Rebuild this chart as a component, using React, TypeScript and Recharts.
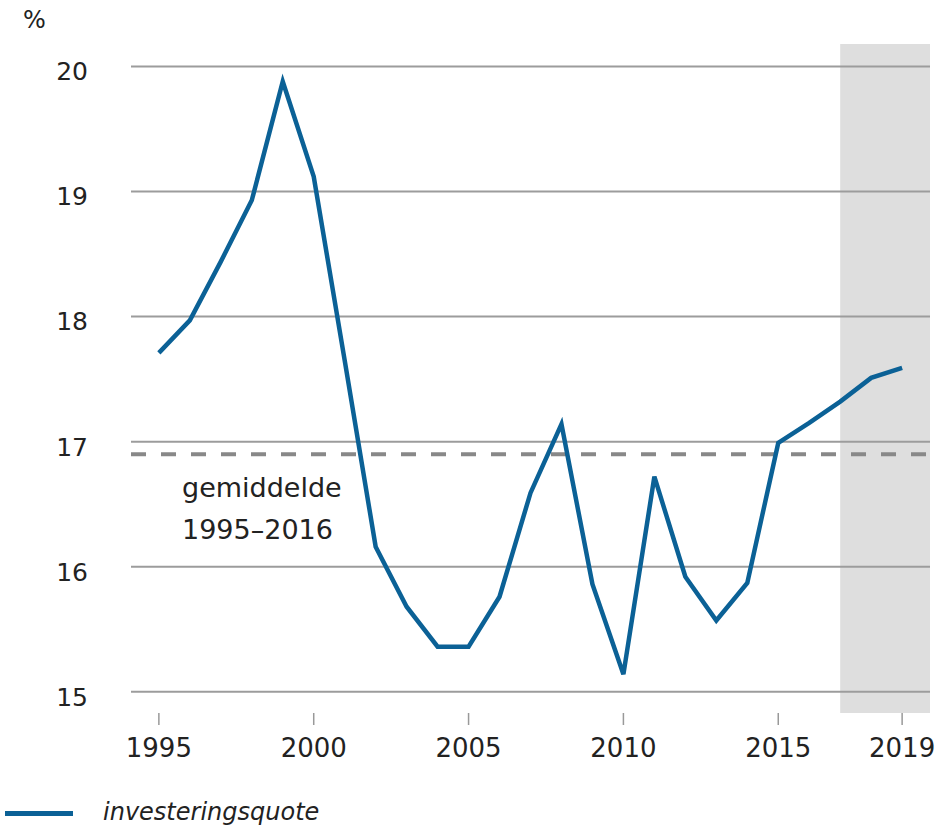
import React from 'react';
import {
    LineChart,
    Line,
    XAxis,
    YAxis,
    ReferenceLine,
    ReferenceArea
} from 'recharts';

const years = [
    1995, 1996, 1997, 1998, 1999, 2000, 2001, 2002, 2003, 2004, 2005, 2006, 2007,
    2008, 2009, 2010, 2011, 2012, 2013, 2014, 2015, 2016, 2017, 2018, 2019
];
const investeringsquote = [
    17.71, 17.97, 18.44, 18.93, 19.88, 19.12, 17.65, 16.16, 15.68, 15.36, 15.36, 15.76, 16.59,
    17.14, 15.86, 15.14, 16.72, 15.92, 15.57, 15.87, 16.99, 17.15, 17.32, 17.51, 17.59
];
const xTicks = [1995, 2000, 2005, 2010, 2015, 2019];
const yTicks = [15, 16, 17, 18, 19, 20];
const gemiddelde = 16.9;
const ramingVanaf = 2017;
const annotationLines = ['gemiddelde', '1995\u20132016'];

const BLUE = '#0b6196';
const FONT = '"DejaVu Sans", sans-serif';

const data = years.map((year, i) => ({ year, value: investeringsquote[i] }));

const AvgLabel = (props: any) => {
    const { viewBox } = props;
    const x = viewBox.x + 51;
    const y = viewBox.y;
    return (
        <g>
            {annotationLines.map((line, i) => (
                <text key={line} x={x} y={y + 43 + i * 42} fontSize={27} fontFamily={FONT} fill="#222">
                    {line}
                </text>
            ))}
        </g>
    );
};

export default function App() {
    return (
        <div style={{ position: 'absolute', left: 0, top: 0, width: 948, height: 839, background: '#fff', fontFamily: FONT }}>
            <div style={{ position: 'absolute', left: 23, top: 6, fontSize: 24, color: '#222' }}>%</div>

            <LineChart width={948} height={780} data={data} margin={{ top: 44, right: 18, left: 0, bottom: 17 }}>
                <ReferenceArea
                    x1={ramingVanaf}
                    x2={2019.9}
                    y1={14.83}
                    y2={20.18}
                    fill="#bdbdbd"
                    fillOpacity={0.5}
                    stroke="none"
                />
                {/* horizontal grid only at the labelled ticks */}
                {yTicks.map(t => (
                    <ReferenceLine key={t} y={t} stroke="#9c9c9c" strokeWidth={2} />
                ))}
                <XAxis
                    dataKey="year"
                    type="number"
                    domain={[1994.1, 2019.9]}
                    ticks={xTicks}
                    axisLine={false}
                    tickLine={{ stroke: '#999', strokeWidth: 1.5 }}
                    tickSize={12}
                    tickMargin={14}
                    height={50}
                    tick={{ fontSize: 26, fill: '#222', fontFamily: FONT }}
                />
                <YAxis
                    type="number"
                    domain={[14.83, 20.18]}
                    ticks={yTicks}
                    axisLine={false}
                    tickLine={false}
                    tickSize={0}
                    tickMargin={43}
                    width={131}
                    tick={{ fontSize: 25, fill: '#222', fontFamily: FONT, dy: 5 }}
                />
                <ReferenceLine
                    y={gemiddelde}
                    stroke="#888"
                    strokeWidth={4}
                    strokeDasharray="15 15"
                    label={<AvgLabel />}
                />
                <Line
                    type="linear"
                    dataKey="value"
                    stroke={BLUE}
                    strokeWidth={4.5}
                    dot={false}
                    isAnimationActive={false}
                />
            </LineChart>

            <div style={{ position: 'absolute', left: 5, top: 811, width: 68, height: 5, background: BLUE }} />
            <div style={{ position: 'absolute', left: 103, top: 795, fontSize: 24, fontStyle: 'italic', color: '#222', lineHeight: '34px' }}>
                investeringsquote
            </div>
        </div>
    );
}
